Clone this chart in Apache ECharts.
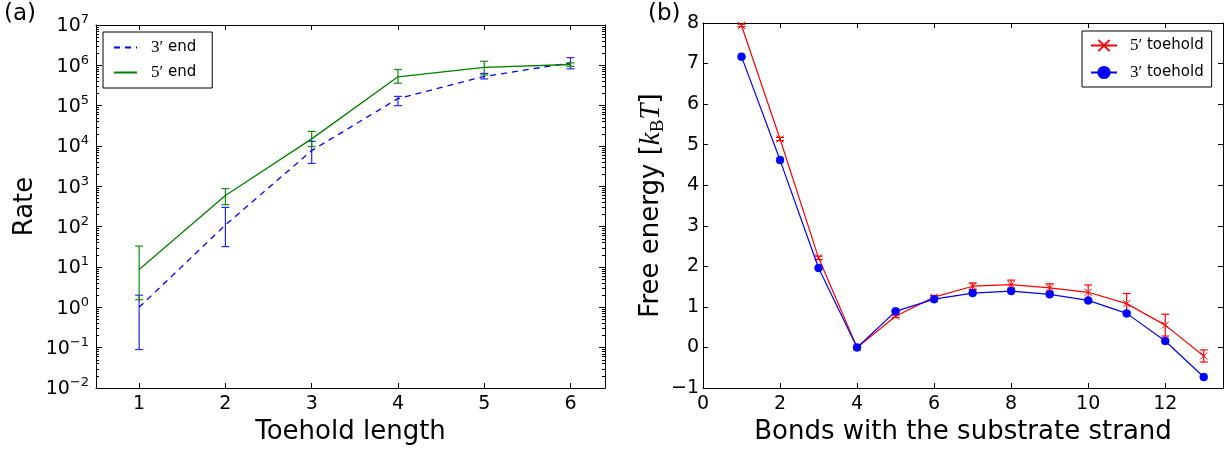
<!DOCTYPE html>
<html><head><meta charset="utf-8">
<script src="https://cdn.jsdelivr.net/npm/echarts@6/dist/echarts.min.js"></script>
<style>html,body{margin:0;padding:0;background:#fff}#c{width:1225px;height:450px}</style>
</head><body><div id="c"></div>
<script>
// ---------- data: panel (a) ----------
const toeholdLength = [1, 2, 3, 4, 5, 6];
const rate3End      = [1.0, 110, 7700, 1.5e5, 5.3e5, 1.15e6];
const rate3EndLow   = [0.09, 32, 3700, 1.0e5, 4.6e5, 8.2e5];
const rate3EndHigh  = [2.0, 300, 13000, 1.7e5, 6.3e5, 1.55e6];
const rate5End      = [8.7, 590, 1.5e4, 5.2e5, 8.9e5, 1.05e6];
const rate5EndLow   = [1.55, 350, 9700, 3.6e5, 5.8e5, 9.4e5];
const rate5EndHigh  = [33, 880, 2.3e4, 7.9e5, 1.26e6, 1.15e6];
const rateTicks     = [1e-2, 1e-1, 1e0, 1e1, 1e2, 1e3, 1e4, 1e5, 1e6, 1e7];
const toeholdTicks  = [1, 2, 3, 4, 5, 6];

// ---------- data: panel (b) ----------
const bonds      = [1, 2, 3, 4, 5, 6, 7, 8, 9, 10, 11, 12, 13];
const energy5    = [7.94, 5.14, 2.21, 0.0, 0.77, 1.24, 1.51, 1.55, 1.47, 1.36, 1.08, 0.55, -0.21];
const energy5Err = [0.03, 0.04, 0.04, 0.02, 0.03, 0.04, 0.08, 0.11, 0.10, 0.18, 0.25, 0.27, 0.15];
const energy3    = [7.17, 4.62, 1.96, 0.0, 0.89, 1.19, 1.34, 1.39, 1.31, 1.16, 0.84, 0.16, -0.73];
const bondTicks  = [0, 2, 4, 6, 8, 10, 12];
const energyTicks = [-1, 0, 1, 2, 3, 4, 5, 6, 7, 8];

const FONT = 'DejaVu Sans';
const SERIF = 'Liberation Serif';

const minorRateTicks = [];
for (let i = 0; i < rateTicks.length - 1; i++) {
  for (let m = 2; m <= 9; m++) minorRateTicks.push(rateTicks[i] * m);
}

function errorBars(color, cap) {
  return function (params, api) {
    const x = api.value(0), lo = api.value(1), hi = api.value(2);
    const p1 = api.coord([x, lo]), p2 = api.coord([x, hi]);
    const st = { stroke: color, lineWidth: 1.2 };
    return {
      type: 'group',
      children: [
        { type: 'line', shape: { x1: p1[0], y1: p1[1], x2: p2[0], y2: p2[1] }, style: st },
        { type: 'line', shape: { x1: p1[0] - cap, y1: p1[1], x2: p1[0] + cap, y2: p1[1] }, style: st },
        { type: 'line', shape: { x1: p2[0] - cap, y1: p2[1], x2: p2[0] + cap, y2: p2[1] }, style: st }
      ]
    };
  };
}

const axisLine = { show: true, onZero: false, lineStyle: { color: '#000', width: 1 } };
const tickStyle = { color: '#000', width: 1 };

function legendFmt(name) {
  const parts = name.split(' ');
  return '{m|' + parts[0] + '} ' + parts.slice(1).join(' ');
}

const option = {
  animation: false,
  backgroundColor: '#fff',
  textStyle: { fontFamily: FONT, color: '#000' },
  title: [
    { text: '(a)', left: 4, top: 3, padding: 0, textStyle: { fontSize: 23, fontWeight: 'normal', fontFamily: FONT, color: '#000' } },
    { text: '(b)', left: 648, top: 3, padding: 0, textStyle: { fontSize: 23, fontWeight: 'normal', fontFamily: FONT, color: '#000' } }
  ],
  grid: [
    { left: 96, top: 25, width: 509, height: 363, show: false },
    { left: 703, top: 23, width: 520, height: 365, show: false }
  ],
  legend: [
    {
      data: ['3′ end', '5′ end'], left: 103, top: 32, orient: 'vertical',
      itemWidth: 23, itemHeight: 14, itemGap: 8, padding: [7, 16, 7, 10],
      borderColor: '#000', borderWidth: 1, selectedMode: false,
      itemStyle: { opacity: 0 },
      formatter: legendFmt,
      textStyle: { fontSize: 15, fontFamily: FONT, color: '#000', padding: [0, 0, 0, 9],
        rich: { m: { fontFamily: SERIF, fontSize: 17, color: '#000' } } }
    },
    {
      data: ['5′ toehold', '3′ toehold'], left: 1082, top: 31, orient: 'vertical',
      itemWidth: 26, itemHeight: 14, itemGap: 10, padding: [6, 8, 6, 8],
      borderColor: '#000', borderWidth: 1, selectedMode: false,
      formatter: legendFmt,
      textStyle: { fontSize: 15, fontFamily: FONT, color: '#000', padding: [0, 0, 0, 8],
        rich: { m: { fontFamily: SERIF, fontSize: 17, color: '#000' } } }
    }
  ],
  xAxis: [
    {
      gridIndex: 0, type: 'value', position: 'bottom', min: 0.5, max: 6.4,
      axisLine: axisLine,
      axisTick: { show: true, inside: true, length: 5, customValues: toeholdTicks, lineStyle: tickStyle },
      axisLabel: { customValues: toeholdTicks, fontSize: 19, color: '#000', margin: 7, fontFamily: FONT },
      splitLine: { show: false },
      name: 'Toehold length', nameLocation: 'middle', nameGap: 26,
      nameTextStyle: { fontSize: 26, color: '#000', fontFamily: FONT }
    },
    {
      gridIndex: 0, type: 'value', position: 'top', min: 0.5, max: 6.4,
      axisLine: axisLine,
      axisTick: { show: true, inside: true, length: 5, customValues: toeholdTicks, lineStyle: tickStyle },
      axisLabel: { show: false }, splitLine: { show: false }
    },
    {
      gridIndex: 1, type: 'value', position: 'bottom', min: 0, max: 13.5,
      axisLine: axisLine,
      axisTick: { show: true, inside: true, length: 5, customValues: bondTicks, lineStyle: tickStyle },
      axisLabel: { customValues: bondTicks, fontSize: 19, color: '#000', margin: 7, fontFamily: FONT },
      splitLine: { show: false },
      name: 'Bonds with the substrate strand', nameLocation: 'middle', nameGap: 26,
      nameTextStyle: { fontSize: 26, color: '#000', fontFamily: FONT }
    },
    {
      gridIndex: 1, type: 'value', position: 'top', min: 0, max: 13.5,
      axisLine: axisLine,
      axisTick: { show: true, inside: true, length: 5, customValues: bondTicks, lineStyle: tickStyle },
      axisLabel: { show: false }, splitLine: { show: false }
    }
  ],
  yAxis: [
    {
      gridIndex: 0, type: 'log', logBase: 10, position: 'left', min: 1e-2, max: 1e7,
      axisLine: axisLine,
      axisTick: { show: true, inside: true, length: 6, customValues: rateTicks, lineStyle: tickStyle },
      axisLabel: {
        customValues: rateTicks, margin: 7,
        formatter: function (v) {
          const e = Math.round(Math.log10(v));
          return '{b|10}{s|' + String(e).replace('-', '−') + '}';
        },
        rich: {
          b: { fontSize: 19, fontFamily: FONT, color: '#000', lineHeight: 20, padding: [3, 0, 0, 0] },
          s: { fontSize: 13, fontFamily: FONT, color: '#000', lineHeight: 13, padding: [0, 0, 10, 0] }
        }
      },
      splitLine: { show: false },
      name: 'Rate', nameLocation: 'middle', nameGap: 58, nameRotate: 90,
      nameTextStyle: { fontSize: 26, color: '#000', fontFamily: FONT }
    },
    {
      gridIndex: 0, type: 'log', logBase: 10, position: 'right', min: 1e-2, max: 1e7,
      axisLine: axisLine,
      axisTick: { show: true, inside: true, length: 6, customValues: rateTicks, lineStyle: tickStyle },
      axisLabel: { show: false }, splitLine: { show: false }
    },
    {
      gridIndex: 0, type: 'log', logBase: 10, position: 'left', min: 1e-2, max: 1e7,
      axisLine: { show: false },
      axisTick: { show: true, inside: true, length: 3, customValues: minorRateTicks, lineStyle: tickStyle },
      axisLabel: { show: false }, splitLine: { show: false }
    },
    {
      gridIndex: 0, type: 'log', logBase: 10, position: 'right', min: 1e-2, max: 1e7,
      axisLine: { show: false },
      axisTick: { show: true, inside: true, length: 3, customValues: minorRateTicks, lineStyle: tickStyle },
      axisLabel: { show: false }, splitLine: { show: false }
    },
    {
      gridIndex: 1, type: 'value', position: 'left', min: -1, max: 8, interval: 1,
      axisLine: axisLine,
      axisTick: { show: true, inside: true, length: 5, customValues: energyTicks, lineStyle: tickStyle },
      axisLabel: {
        customValues: energyTicks, fontSize: 19, color: '#000', margin: 4, fontFamily: FONT,
        formatter: function (v) { return String(v).replace('-', '−'); }
      },
      splitLine: { show: false },
      name: 'Free energy [{i|k}{sub|B}{i|T}]', nameLocation: 'middle', nameGap: 30, nameRotate: 90,
      nameTextStyle: {
        fontSize: 26, color: '#000', fontFamily: FONT, lineHeight: 30,
        rich: {
          i: { fontFamily: SERIF, fontStyle: 'italic', fontSize: 29, color: '#000', lineHeight: 30 },
          sub: { fontFamily: SERIF, fontSize: 19, color: '#000', lineHeight: 18, padding: [12, 0, 0, 0] }
        }
      }
    },
    {
      gridIndex: 1, type: 'value', position: 'right', min: -1, max: 8, interval: 1,
      axisLine: axisLine,
      axisTick: { show: true, inside: true, length: 5, customValues: energyTicks, lineStyle: tickStyle },
      axisLabel: { show: false }, splitLine: { show: false }
    }
  ],
  series: [
    {
      name: '3′ end', type: 'line', xAxisIndex: 0, yAxisIndex: 0, symbol: 'none',
      data: toeholdLength.map((x, i) => [x, rate3End[i]]),
      lineStyle: { color: '#0000ff', width: 1.3, type: [6, 5] }, itemStyle: { color: '#0000ff' }, z: 3
    },
    {
      name: '3′ end err', type: 'custom', xAxisIndex: 0, yAxisIndex: 0,
      data: toeholdLength.map((x, i) => [x, rate3EndLow[i], rate3EndHigh[i]]),
      encode: { x: 0, y: [1, 2] }, renderItem: errorBars('#2525ff', 4), z: 3
    },
    {
      name: '5′ end', type: 'line', xAxisIndex: 0, yAxisIndex: 0, symbol: 'none',
      data: toeholdLength.map((x, i) => [x, rate5End[i]]),
      lineStyle: { color: '#008000', width: 1.3 }, itemStyle: { color: '#008000' }, z: 4
    },
    {
      name: '5′ end err', type: 'custom', xAxisIndex: 0, yAxisIndex: 0,
      data: toeholdLength.map((x, i) => [x, rate5EndLow[i], rate5EndHigh[i]]),
      encode: { x: 0, y: [1, 2] }, renderItem: errorBars('#138a13', 4), z: 4
    },
    {
      name: '5′ toehold', type: 'line', xAxisIndex: 2, yAxisIndex: 4,
      symbol: 'path://M0,0L10,10M10,0L0,10', symbolSize: 7,
      data: bonds.map((x, i) => [x, energy5[i]]),
      lineStyle: { color: '#ff0000', width: 1.2 },
      itemStyle: { color: '#ff0000', borderColor: '#ff0000', borderWidth: 1 }, z: 3
    },
    {
      name: '5′ toehold err', type: 'custom', xAxisIndex: 2, yAxisIndex: 4,
      data: bonds.map((x, i) => [x, energy5[i] - energy5Err[i], energy5[i] + energy5Err[i]]),
      encode: { x: 0, y: [1, 2] }, renderItem: errorBars('#ff0000', 4), z: 3
    },
    {
      name: '3′ toehold', type: 'line', xAxisIndex: 2, yAxisIndex: 4,
      symbol: 'circle', symbolSize: 8,
      data: bonds.map((x, i) => [x, energy3[i]]),
      lineStyle: { color: '#0000ff', width: 1.2 },
      itemStyle: { color: '#0000ff', borderColor: '#0000ff', borderWidth: 0.5 }, z: 4
    }
  ]
};

const chart = echarts.init(document.getElementById('c'), null, { renderer: 'canvas' });
chart.setOption(option);
</script>
</body></html>
